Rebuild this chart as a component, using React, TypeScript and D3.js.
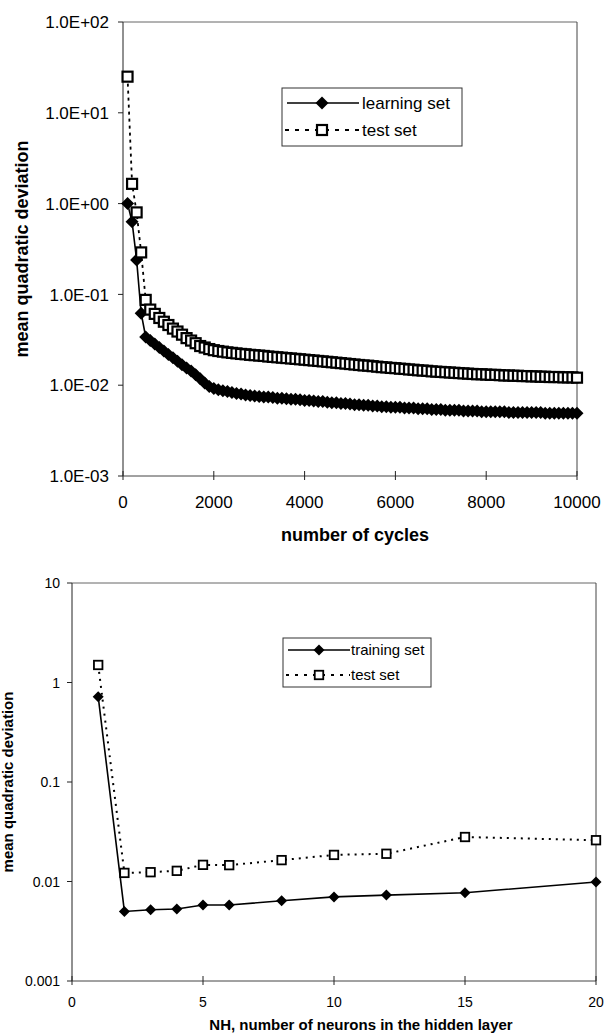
import React from "react";
import * as d3 from "d3";

// top chart: error vs training cycles
const cycles = d3.range(100, 10001, 100);
const learningSet = [
  1.0, 0.63, 0.24, 0.062, 0.034, 0.031, 0.0285, 0.026, 0.0238, 0.0218,
  0.02, 0.0183, 0.0168, 0.0155, 0.0143, 0.013, 0.0118, 0.0106, 0.0097, 0.0092,
  0.0089, 0.0087, 0.0085, 0.0083, 0.0081, 0.008, 0.0078, 0.0077, 0.0076, 0.0075,
  0.0074, 0.0074, 0.0073, 0.0072, 0.0072, 0.0071, 0.007, 0.007, 0.0069, 0.0068,
  0.0068, 0.0067, 0.0066, 0.0066, 0.0065, 0.0064, 0.0064, 0.0063, 0.0063, 0.0062,
  0.0061, 0.0061, 0.006, 0.006, 0.0059, 0.0059, 0.0058, 0.0058, 0.0057, 0.0057,
  0.0057, 0.0056, 0.0056, 0.0056, 0.0055, 0.0055, 0.0055, 0.0054, 0.0054, 0.0054,
  0.0053, 0.0053, 0.0053, 0.0053, 0.0052, 0.0052, 0.0052, 0.0052, 0.0051, 0.0051,
  0.0051, 0.0051, 0.0051, 0.0051, 0.005, 0.005, 0.005, 0.005, 0.005, 0.005,
  0.005, 0.005, 0.0049, 0.0049, 0.0049, 0.0049, 0.0049, 0.0049, 0.0049, 0.0049,
];
const testSetTop = [
  25, 1.65, 0.8, 0.29, 0.087, 0.068, 0.061, 0.055, 0.05, 0.046,
  0.042, 0.039, 0.036, 0.033, 0.031, 0.029, 0.027, 0.026, 0.025, 0.0243,
  0.0238, 0.0234, 0.023, 0.0227, 0.0224, 0.0221, 0.0219, 0.0216, 0.0214, 0.0212,
  0.021, 0.0207, 0.0205, 0.0203, 0.0201, 0.0199, 0.0197, 0.0195, 0.0193, 0.0191,
  0.0189, 0.0187, 0.0185, 0.0183, 0.0181, 0.0179, 0.0177, 0.0175, 0.0173, 0.0171,
  0.0169, 0.0167, 0.0165, 0.0164, 0.0162, 0.016, 0.0158, 0.0157, 0.0155, 0.0154,
  0.0152, 0.0151, 0.0149, 0.0148, 0.0146, 0.0145, 0.0144, 0.0142, 0.0141, 0.014,
  0.0139, 0.0138, 0.0137, 0.0136, 0.0135, 0.0134, 0.0133, 0.0132, 0.0132, 0.0131,
  0.013, 0.013, 0.0129, 0.0128, 0.0128, 0.0127, 0.0127, 0.0126, 0.0126, 0.0125,
  0.0125, 0.0124, 0.0124, 0.0123, 0.0123, 0.0123, 0.0122, 0.0122, 0.0122, 0.0121,
];
const topYTicks = [100, 10, 1, 0.1, 0.01, 0.001];
const topYLabels = ["1.0E+02", "1.0E+01", "1.0E+00", "1.0E-01", "1.0E-02", "1.0E-03"];
const topXTicks = [0, 2000, 4000, 6000, 8000, 10000];

// bottom chart: error vs hidden neurons
const neurons = [1, 2, 3, 4, 5, 6, 8, 10, 12, 15, 20];
const trainingSet = [0.72, 0.005, 0.0052, 0.0053, 0.0058, 0.0058, 0.0064, 0.007, 0.0073, 0.0077, 0.0099];
const testSetBottom = [1.5, 0.0122, 0.0124, 0.0128, 0.0147, 0.0146, 0.0164, 0.0185, 0.019, 0.028, 0.026];
const botYTicks = [10, 1, 0.1, 0.01, 0.001];
const botYLabels = ["10", "1", "0.1", "0.01", "0.001"];
const botXTicks = [0, 5, 10, 15, 20];

const FONT = "'Liberation Sans', Arial, sans-serif";

const diamond = (r: number) => `M0,${-r}L${r},0L0,${r}L${-r},0Z`;

function Panel(props: any) {
  const {
    box, xDomain, yDomain, xTicks, yTicks, yLabels, xs, learn, test,
    learnName, tickSize, titleSize, legendSize, xTitle, xTitleX, xTitleY,
    yTitleX, xLabelY, legend, dR, sq, sqW, dash, testW, yLabelGap, legDash,
  } = props;
  const x = d3.scaleLinear().domain(xDomain).range([box.left, box.right]);
  const y = d3.scaleLog().domain(yDomain).range([box.bottom, box.top]);
  const ln = d3.line<number>().x((_, i) => x(xs[i])).y((d) => y(d));
  const yMid = (box.top + box.bottom) / 2;
  return (
    <g fontFamily={FONT}>
      {/* frame */}
      <line x1={box.left} x2={box.right} y1={box.top} y2={box.top} stroke="#666" strokeWidth={1} />
      <line x1={box.right} x2={box.right} y1={box.top} y2={box.bottom} stroke="#444" strokeWidth={1} />
      <line x1={box.left} x2={box.left} y1={box.top} y2={box.bottom} stroke="#222" strokeWidth={1} />
      <line x1={box.left} x2={box.right} y1={box.bottom} y2={box.bottom} stroke="#444" strokeWidth={1} />
      {yTicks.map((t: number, i: number) => (
        <g key={t}>
          <line x1={box.left - 5} x2={box.left} y1={y(t)} y2={y(t)} stroke="#222" />
          <text x={box.left - yLabelGap} y={y(t)} dy="0.36em" textAnchor="end" fontSize={tickSize}>
            {yLabels[i]}
          </text>
        </g>
      ))}
      {xTicks.map((t: number) => (
        <g key={t}>
          <line x1={x(t)} x2={x(t)} y1={box.bottom - 5} y2={box.bottom + 4} stroke="#222" />
          <text x={x(t)} y={xLabelY} textAnchor="middle" fontSize={tickSize}>{t}</text>
        </g>
      ))}
      {/* series */}
      <path d={ln(learn) || ""} fill="none" stroke="#000" strokeWidth={1.6} />
      {learn.map((d: number, i: number) => (
        <path key={i} d={diamond(dR)} transform={`translate(${x(xs[i])},${y(d)})`} fill="#000" />
      ))}
      <path d={ln(test) || ""} fill="none" stroke="#000" strokeWidth={testW} strokeDasharray={dash} />
      {test.map((d: number, i: number) => (
        <rect key={i} x={x(xs[i]) - sq / 2} y={y(d) - sq / 2} width={sq} height={sq}
          fill="#fff" stroke="#000" strokeWidth={sqW} />
      ))}
      {/* titles */}
      <text x={xTitleX} y={xTitleY} textAnchor="middle" fontSize={titleSize} fontWeight="bold">{xTitle}</text>
      <text transform={`translate(${yTitleX},${yMid}) rotate(-90)`} textAnchor="middle"
        fontSize={titleSize} fontWeight="bold">mean quadratic deviation</text>
      {/* legend */}
      <g>
        <rect x={legend.x} y={legend.y} width={legend.w} height={legend.h} fill="#fff" stroke="#333" strokeWidth={1} />
        <line x1={legend.x + 5} x2={legend.lineEnd} y1={legend.r1} y2={legend.r1} stroke="#000" strokeWidth={1.5} />
        <path d={diamond(dR)} transform={`translate(${legend.mark},${legend.r1})`} fill="#000" />
        <text x={legend.textX} y={legend.r1} dy="0.35em" fontSize={legendSize}>{learnName}</text>
        <line x1={legend.x + 3} x2={legend.lineEnd} y1={legend.r2} y2={legend.r2} stroke="#000"
          strokeWidth={testW} strokeDasharray={legDash} />
        <rect x={legend.mark - sq / 2} y={legend.r2 - sq / 2} width={sq} height={sq} fill="#fff" stroke="#000" strokeWidth={sqW} />
        <text x={legend.textX} y={legend.r2} dy="0.35em" fontSize={legendSize}>test set</text>
      </g>
    </g>
  );
}

export default function App() {
  return (
    <div style={{ position: "absolute", left: 0, top: 0 }}>
      <svg width={605} height={1035} style={{ display: "block", background: "#fff" }}>
        <Panel
          box={{ left: 123, right: 577, top: 22, bottom: 476 }}
          xDomain={[0, 10000]} yDomain={[0.001, 100]}
          xTicks={topXTicks} yTicks={topYTicks} yLabels={topYLabels}
          xs={cycles} learn={learningSet} test={testSetTop} learnName="learning set"
          tickSize={17} titleSize={18} legendSize={17} yLabelGap={14}
          xTitle="number of cycles" xTitleX={355} xTitleY={541} yTitleX={28} xLabelY={508}
          legend={{ x: 282, y: 88, w: 180, h: 58, r1: 103, r2: 130, lineEnd: 359, mark: 322, textX: 362 }}
          dR={6.5} sq={10} sqW={2.2} dash="3,4" legDash="4,6" testW={1.8}
        />
        <Panel
          box={{ left: 72, right: 596, top: 583, bottom: 981 }}
          xDomain={[0, 20]} yDomain={[0.001, 10]}
          xTicks={botXTicks} yTicks={botYTicks} yLabels={botYLabels}
          xs={neurons} learn={trainingSet} test={testSetBottom} learnName="training set"
          tickSize={14} titleSize={15} legendSize={15} yLabelGap={12}
          xTitle="NH, number of neurons in the hidden layer" xTitleX={361} xTitleY={1030} yTitleX={13} xLabelY={1007}
          legend={{ x: 283, y: 638, w: 148, h: 49, r1: 650, r2: 675, lineEnd: 350, mark: 319, textX: 351 }}
          dR={5.5} sq={8.5} sqW={1.8} dash="2,5" legDash="3,6" testW={2}
        />
      </svg>
    </div>
  );
}
